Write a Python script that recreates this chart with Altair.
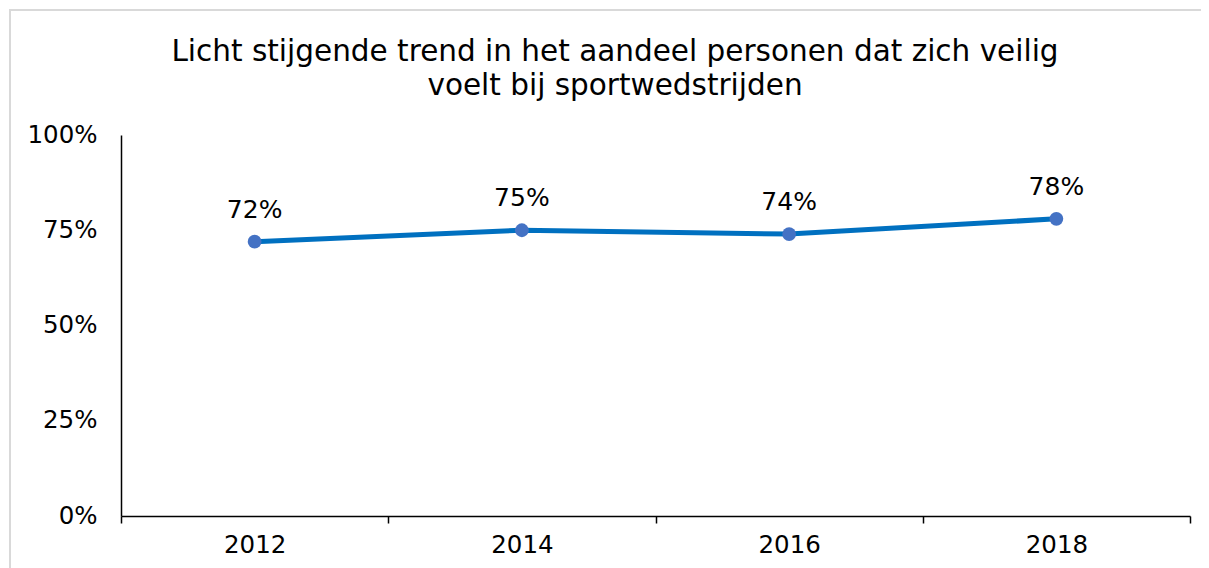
import altair as alt
import pandas as pd

years = ["2012", "2014", "2016", "2018"]
shares = [0.72, 0.75, 0.74, 0.78]
labels = ["72%", "75%", "74%", "78%"]
y_ticks = [0, 0.25, 0.5, 0.75, 1.0]
title_line_1 = "Licht stijgende trend in het aandeel personen dat zich veilig"
title_line_2 = "voelt bij sportwedstrijden"

df = pd.DataFrame({"jaar": years, "aandeel": shares, "label": labels})

FONT = "DejaVu Sans"
TICK_FS = 24.5
TITLE_FS = 29.5

x_enc = alt.X("jaar:N", sort=years, title=None,
              scale=alt.Scale(type="band", paddingInner=0, paddingOuter=0),
              axis=alt.Axis(labelAngle=0, tickBand="extent", ticks=True, tickSize=7,
                            tickColor="#000000", tickWidth=1.5, domainColor="#000000",
                            domainWidth=1.5, labelFontSize=TICK_FS, labelColor="#000000",
                            labelPadding=10, labelFont=FONT, grid=False))
y_enc = alt.Y("aandeel:Q", title=None,
              scale=alt.Scale(domain=[0, 1], nice=False),
              axis=alt.Axis(values=y_ticks, format=".0%", ticks=False, grid=False,
                            domainColor="#000000", domainWidth=1.5, labelFontSize=TICK_FS,
                            labelColor="#000000", labelPadding=24, labelFont=FONT))

base = alt.Chart(df).encode(x=x_enc, y=y_enc)

line = base.mark_line(color="#0070C0", strokeWidth=5)
points = base.mark_point(filled=True, color="#4472C4", size=190, opacity=1)
text = base.mark_text(dy=-32, fontSize=25, font=FONT, color="#000000").encode(text="label:N")

one = pd.DataFrame({"a": [0]})
border = alt.Chart(one).mark_rect(
    fill=None, stroke="#D9D9D9", strokeWidth=2
).encode(x=alt.value(-111), x2=alt.value(1200), y=alt.value(-125), y2=alt.value(600))

t1 = alt.Chart(one).mark_text(fontSize=TITLE_FS, font=FONT, color="#000000", align="center",
                              baseline="alphabetic", text=title_line_1
                              ).encode(x=alt.value(494), y=alt.value(-74))
t2 = alt.Chart(one).mark_text(fontSize=TITLE_FS, font=FONT, color="#000000", align="center",
                              baseline="alphabetic", text=title_line_2
                              ).encode(x=alt.value(494), y=alt.value(-40))

chart = alt.layer(border, t1, t2, line, points, text).properties(
    width=1069, height=381,
    autosize=alt.AutoSizeParams(type="none"),
    padding={"left": 113, "top": 127, "right": 11, "bottom": 52},
).configure_view(stroke=None)

chart.save("out.html", embed_options={"renderer": "svg", "actions": False})
